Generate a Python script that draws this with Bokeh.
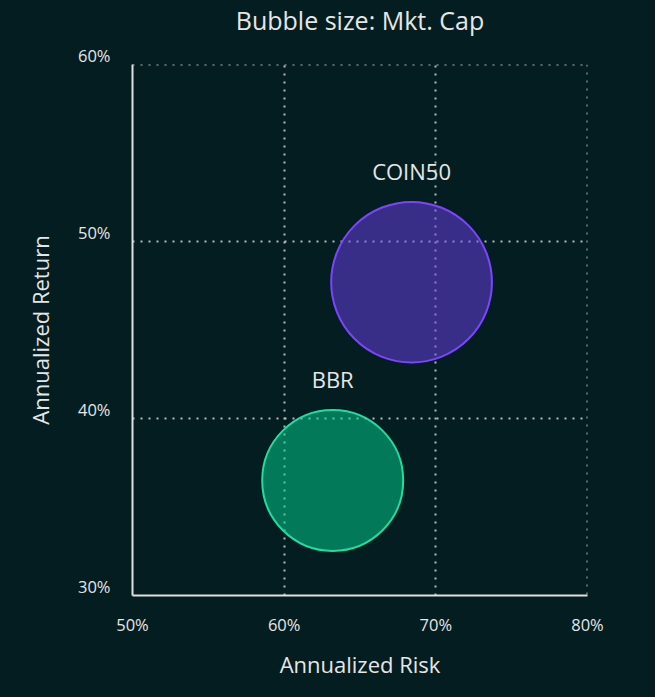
import math
from bokeh.plotting import figure
from bokeh.models import (Range1d, FixedTicker, PrintfTickFormatter, ColumnDataSource, Span)
from bokeh.core.properties import value
from bokeh.embed import file_html
from bokeh.resources import INLINE

# ---- data ----
names = ["COIN50", "BBR"]
risk = [68.4, 63.2]          # annualized risk, %
ret = [47.7, 36.5]           # annualized return, %
mkt_cap = [1.30, 1.00]       # relative market cap (bubble area)
fill_colors = ["#6b3ff0", "#00d68f"]
line_colors = ["#7b45ff", "#22dca0"]
x_ticks = [50, 60, 70, 80]
y_ticks = [30, 40, 50, 60]
y_tick_labels = ["30%", "40%", "50%", "60%"]
title_text = "Bubble size: Mkt. Cap"

BG = "#041d20"
TXT = "#e6e6e6"
FONT = "Open Sans"
GRID = "#c8cdcd"

base_d = 141
sizes = [base_d * math.sqrt(c / min(mkt_cap)) for c in mkt_cap]

x0, x1 = x_ticks[0], x_ticks[-1]
y0, y1 = y_ticks[0], y_ticks[-1]

p = figure(width=639, height=681, output_backend="svg", toolbar_location=None,
           x_range=Range1d(x0, x1), y_range=Range1d(y0, y1),
           title=title_text + "\n ")
p.min_border_left = 132
p.min_border_right = 52
p.min_border_top = 64
p.min_border_bottom = 86
p.background_fill_color = BG
p.border_fill_color = BG
p.outline_line_color = None

p.title.align = "center"
p.title.text_color = TXT
p.title.text_font = FONT
p.title.text_font_size = "25px"
p.title.text_font_style = "normal"
p.title.text_line_height = 0.8
p.title.standoff = 0

for ax in (p.xaxis[0], p.yaxis[0]):
    ax.axis_line_color = "#e0e0e0"
    ax.axis_line_width = 2
    ax.major_tick_line_color = None
    ax.minor_tick_line_color = None
    ax.major_label_text_color = TXT
    ax.major_label_text_font = FONT
    ax.major_label_text_font_size = "16.5px"
    ax.axis_label_text_color = TXT
    ax.axis_label_text_font = FONT
    ax.axis_label_text_font_size = "22px"
    ax.axis_label_text_font_style = "normal"
    ax.formatter = PrintfTickFormatter(format="%d%%")

p.xaxis[0].ticker = FixedTicker(ticks=x_ticks)
p.yaxis[0].ticker = FixedTicker(ticks=y_ticks)
p.xaxis[0].axis_label = "Annualized Risk"
p.yaxis[0].axis_label = "Annualized Return"
p.xaxis[0].major_label_standoff = 11
p.xaxis[0].axis_label_standoff = 10
p.yaxis[0].major_label_standoff = 16
p.yaxis[0].axis_label_standoff = 20
# y tick labels sit just above their tick: a second (blank) line lifts them
p.yaxis[0].major_label_overrides = {t: lab + "\n " for t, lab in zip(y_ticks, y_tick_labels)}
p.yaxis[0].major_label_text_line_height = 0.8

for g in (p.xgrid[0], p.ygrid[0]):
    g.grid_line_color = GRID
    g.grid_line_alpha = 0.9
    g.grid_line_dash = "2 6"
    g.grid_line_width = 2
p.xgrid[0].ticker = FixedTicker(ticks=x_ticks)
p.ygrid[0].ticker = FixedTicker(ticks=y_ticks)

# edge grid lines (top and right)
p.add_layout(Span(location=y1, dimension="width", line_color=GRID, line_alpha=0.9,
                  line_dash="2 6", line_width=2))
p.add_layout(Span(location=x1, dimension="height", line_color=GRID, line_alpha=0.9,
                  line_dash="2 6", line_width=2))

src = ColumnDataSource(dict(x=risk, y=ret, name=names, size=sizes,
                            fc=fill_colors, lc=line_colors,
                            off=[-(s / 2 + 16) for s in sizes]))
p.scatter("x", "y", size="size", source=src, fill_color="fc", fill_alpha=0.5,
          line_color="lc", line_width=2)
p.text("x", "y", text="name", source=src, y_offset="off",
       text_align="center", text_baseline="bottom",
       text_color=TXT, text_font=value(FONT), text_font_size="22px")

html = file_html(p, INLINE)
html = html.replace("<head>", "<head><style>html,body{background:%s;}</style>" % BG, 1)
open("out.html", "w").write(html)
